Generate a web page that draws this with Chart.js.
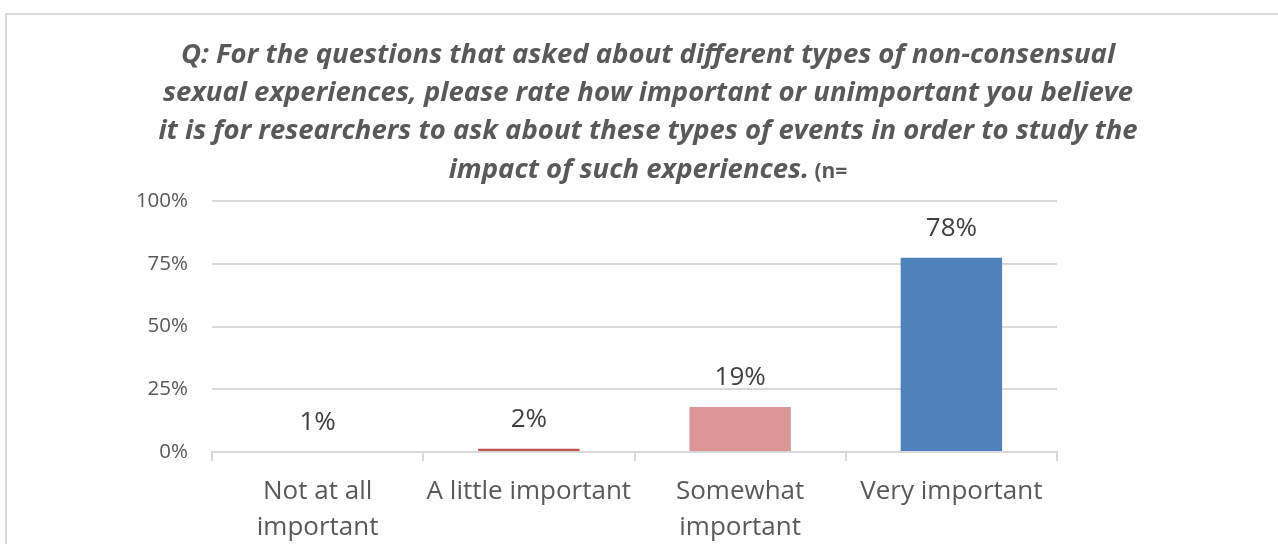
<!DOCTYPE html>
<html>
<head>
    <title>Importance of asking about non-consensual experiences</title>
    <script src="https://cdn.jsdelivr.net/npm/chart.js"></script>
    <style>
        body { margin: 0; background: #fff; }
        .wrap { position: relative; width: 1278px; height: 544px; }
    </style>
</head>
<body>

<div class="wrap">
    <canvas id="grafico" width="1278" height="544"></canvas>
</div>

<script>
    // datos (la primera barra no se ve en el original)
    const categorias = [['Not at all', 'important'], 'A little important', ['Somewhat', 'important'], 'Very important'];
    const valores = [0, 1.3, 17.9, 77.4];
    const etiquetas = ['1%', '2%', '19%', '78%'];
    const colores = ['#C0504D', '#C0504D', '#D99694', '#4F81BD'];
    const ticksY = [0, 25, 50, 75, 100];
    const tituloLineas = [
        'Q: For the questions that asked about different types of non-consensual',
        'sexual experiences, please rate how important or unimportant you believe',
        'it is for researchers to ask about these types of events in order to study the',
        'impact of such experiences.'
    ];
    const tituloExtra = ' (n=';

    const fuente = "'Open Sans', 'DejaVu Sans', sans-serif";

    const marcoYTitulo = {
        id: 'marcoYTitulo',
        beforeDraw(chart) {
            const ctx = chart.ctx;
            ctx.save();
            ctx.strokeStyle = '#d9d9d9';
            ctx.lineWidth = 2;
            ctx.strokeRect(6, 14, 1400, 700);
            ctx.restore();
        },
        afterDraw(chart) {
            const ctx = chart.ctx;
            ctx.save();
            ctx.fillStyle = '#595959';
            ctx.textBaseline = 'alphabetic';
            ctx.textAlign = 'left';
            const cx = 648;
            const bases = [63, 101, 139, 178];
            tituloLineas.forEach((linea, i) => {
                ctx.font = 'italic bold 27.5px ' + fuente;
                const w1 = ctx.measureText(linea).width;
                let w2 = 0;
                if (i === tituloLineas.length - 1) {
                    ctx.font = 'bold 21px ' + fuente;
                    w2 = ctx.measureText(tituloExtra).width;
                }
                const x0 = cx - (w1 + w2) / 2;
                ctx.font = 'italic bold 27.5px ' + fuente;
                ctx.fillText(linea, x0, bases[i]);
                if (w2) {
                    ctx.font = 'bold 21px ' + fuente;
                    ctx.fillText(tituloExtra, x0 + w1, bases[i]);
                }
            });
            ctx.restore();
        }
    };

    const etiquetasDatos = {
        id: 'etiquetasDatos',
        afterDatasetsDraw(chart) {
            const ctx = chart.ctx;
            const meta = chart.getDatasetMeta(0);
            ctx.save();
            ctx.font = '26px ' + fuente;
            ctx.fillStyle = '#404040';
            ctx.textAlign = 'center';
            ctx.textBaseline = 'alphabetic';
            meta.data.forEach((barra, i) => {
                ctx.fillText(etiquetas[i], barra.x, barra.y - 22);
            });
            ctx.restore();
        }
    };

    new Chart(document.getElementById('grafico').getContext('2d'), {
        type: 'bar',
        data: {
            labels: categorias,
            datasets: [{
                data: valores,
                backgroundColor: colores,
                borderWidth: 0,
                categoryPercentage: 1,
                barPercentage: 0.48
            }]
        },
        options: {
            responsive: false,
            animation: false,
            layout: { padding: { top: 201, right: 221, left: 0, bottom: 0 } },
            plugins: {
                legend: { display: false },
                tooltip: { enabled: false }
            },
            scales: {
                y: {
                    min: 0,
                    max: 100,
                    afterFit(scale) { scale.width = 212; },
                    afterBuildTicks(scale) { scale.ticks = ticksY.map(v => ({ value: v })); },
                    border: { display: false },
                    grid: { color: '#d9d9d9', lineWidth: 2, drawTicks: false },
                    ticks: {
                        padding: 24,
                        color: '#595959',
                        font: { family: fuente, size: 20.5 },
                        callback: v => v + '%'
                    }
                },
                x: {
                    afterFit(scale) { scale.height = 92; },
                    border: { color: '#d9d9d9', width: 2 },
                    grid: {
                        offset: true,
                        drawOnChartArea: false,
                        drawTicks: true,
                        tickLength: 9,
                        color: '#d9d9d9',
                        lineWidth: 2
                    },
                    ticks: {
                        padding: 12,
                        color: '#595959',
                        maxRotation: 0,
                        font: { family: fuente, size: 26, lineHeight: 1.4 }
                    }
                }
            }
        },
        plugins: [marcoYTitulo, etiquetasDatos]
    });
</script>

</body>
</html>
